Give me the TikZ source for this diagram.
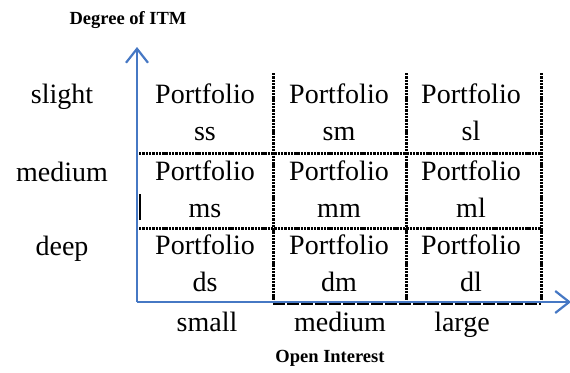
\documentclass[tikz,border=0pt]{standalone}
\usepackage{fontspec}
\setmainfont{Liberation Serif}
\usetikzlibrary{arrows.meta}
\definecolor{axisblue}{RGB}{70,120,196}
\tikzset{
  axis/.style={draw=axisblue, line width=2.6pt, -{Straight Barb[length=14pt,width=22pt,line width=2.2pt]}},
  gridline/.style={draw=black, line width=3pt, dash pattern=on 2.4pt off 0.9pt},
  cell/.style={font=\fontsize{28}{32}\selectfont, inner sep=0pt, anchor=base},
  lbl/.style={font=\fontsize{28}{32}\selectfont, inner sep=0pt, anchor=base},
  title/.style={font=\bfseries\fontsize{18.5}{20}\selectfont, inner sep=0pt, anchor=base}
}
\begin{document}
\begin{tikzpicture}[x=1pt,y=-1pt]
\useasboundingbox (0,0) rectangle (570,372);

% grid corners
\coordinate (o) at (137,302);
\coordinate (ytip) at (137,47);
\coordinate (xtip) at (571,302);
\coordinate (c1t) at (273,73);  \coordinate (c1b) at (273,302);
\coordinate (c2t) at (406,73);  \coordinate (c2b) at (406,302);
\coordinate (c3t) at (541,73);  \coordinate (c3b) at (541,302);
\coordinate (r1l) at (139,153); \coordinate (r1r) at (541,153);
\coordinate (r2l) at (139,228); \coordinate (r2r) at (541,228);
\coordinate (ul) at (273,304);  \coordinate (ur) at (541,304);
\coordinate (tl) at (140,194);  \coordinate (bl) at (140,220);

% dotted cell boundaries
\draw[gridline] (c1t) -- (c1b);
\draw[gridline] (c2t) -- (c2b);
\draw[gridline] (c3t) -- (c3b);
\draw[gridline] (r1l) -- (r1r);
\draw[gridline] (r2l) -- (r2r);
\draw[draw=black, line width=2pt, dash pattern=on 12pt off 2pt] (ul) -- (ur);
\draw[black, line width=1.2pt] (tl) -- (bl);

% axes
\draw[axis] (o) -- (ytip);
\draw[axis] (o) -- (xtip);

% axis titles
\node[title] (ytitle) at (128,24) {Degree of ITM};
\node[title] (xtitle) at (330,362) {Open Interest};

% row labels
\node[lbl] (slight) at (62,103) {slight};
\node[lbl] (medrow) at (62,181) {medium};
\node[lbl] (deep) at (62,255) {deep};

% column labels
\node[lbl] (small) at (207,331) {small};
\node[lbl] (medcol) at (340,331) {medium};
\node[lbl] (large) at (462,331) {large};

% cells
\foreach \r/\y/\rn in {s/103/1, m/180/2, d/254/3}{
  \foreach \c/\x/\cn in {s/205/1, m/339/2, l/471/3}{
    \node[cell] (p\rn\cn) at (\x,\y) {Portfolio};
    \node[cell] (n\rn\cn) at (\x,\y+37) {\r\c};
  }
}
\end{tikzpicture}
\end{document}
